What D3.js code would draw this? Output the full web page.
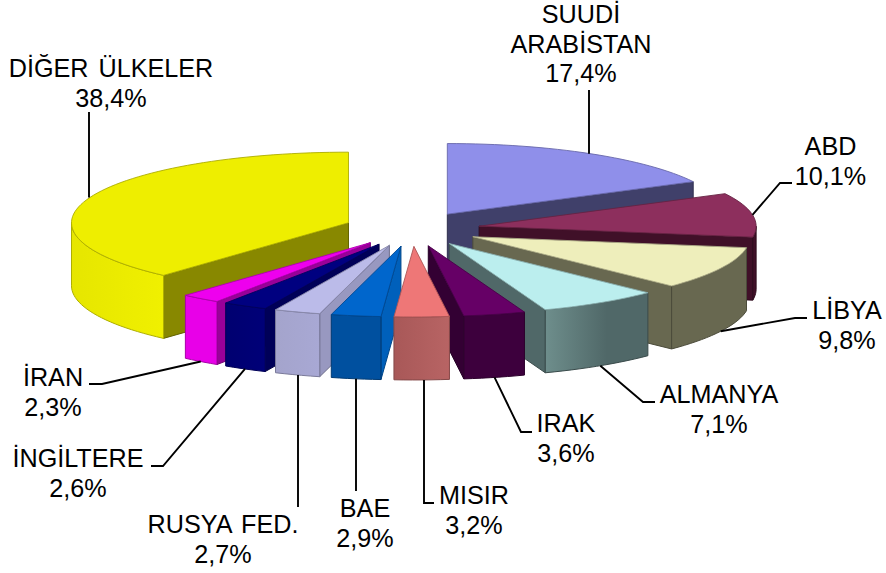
<!DOCTYPE html>
<html><head><meta charset="utf-8">
<style>html,body{margin:0;padding:0;background:#fff}svg{display:block}text{font-family:"Liberation Sans",Arial,sans-serif;font-size:25.2px;word-spacing:3px;fill:#000}</style>
<script src="https://cdn.jsdelivr.net/npm/d3@7/dist/d3.min.js"></script>
</head><body><svg id="c" width="886" height="573"></svg>
<script>
const categories=["SUUDİ ARABİSTAN","ABD","LİBYA","ALMANYA","IRAK","MISIR","BAE","RUSYA FED.","İNGİLTERE","İRAN","DİĞER ÜLKELER"];
const labelLines=[["SUUDİ","ARABİSTAN"],["ABD"],["LİBYA"],["ALMANYA"],["IRAK"],["MISIR"],["BAE"],["RUSYA FED."],["İNGİLTERE"],["İRAN"],["DİĞER ÜLKELER"]];
const values=[17.4,10.1,9.8,7.1,3.6,3.2,2.9,2.7,2.6,2.3,38.4];
const topColors=["#8f8fea","#8d2f5d","#eeeebb","#bbeeee","#660066","#ee7777","#0066cc","#bbbbe9","#000080","#ee00ee","#eeee00"];
const sideColors=["#40406a","#401028","#686850","#506868","#330033","#aa5a5a","#0060bb","#9898c0","#000058","#990099","#888800"];
const wallA=["#40406a","#401028","#686850","#6e8e8c","#3d003d","#a85858","#00509f","#a4a4cc","#000070","#e800e8","#e6e600"];
const wallB=["#40406a","#401028","#686850","#506868","#3d003d","#b86464","#00509f","#a8a8d4","#000078","#e800e8","#f0f000"];
// label layout: text centre, first baseline, leader end, leader elbow
const labelX=[581,830.5,847,719,566,474,365,223,78,53,111];
const labelY=[23,155,319,403,432,504,517,533,467,386,77];
const leaderEnd=[[589,90],[792,183],[807,318],[655,402],[532,432],[434,503],[356,491],[298,507],[151,466],[89,384],[89,112]];
const leaderElbow=[null,[780,183],[795,318],[643,402],[521,432],[424,503],null,null,[163,466],[102,384],null];
const verticalLeader=[true,false,false,false,false,true,true,true,false,false,true];

const cx=412,cy=229,R=277,tilt=0.255,explode=68,depth=63;
const W=d3.select("#c");
const pie=d3.pie().sort(null).value(d=>d);
const arcs=pie(values).map((d,i)=>({i,a:d.startAngle,b:d.endAngle,mid:(d.startAngle+d.endAngle)/2}));
const sx=d3.scaleLinear().domain([-1,1]).range([cx-R,cx+R]);
const sy=d3.scaleLinear().domain([-1,1]).range([cy+R*tilt,cy-R*tilt]);
const proj=(m,r,t,dz=0)=>{const ex=explode/R;
  return [sx(ex*Math.sin(m)+r*Math.sin(t)),sy(ex*Math.cos(m)+r*Math.cos(t))+dz];};
const line=d3.line();
const samples=(a,b)=>{const n=Math.max(2,Math.ceil((b-a)/(Math.PI/90)));return d3.range(n+1).map(k=>a+(b-a)*k/n);};
const defs=W.append("defs");
arcs.forEach(s=>{
  const g=defs.append("linearGradient").attr("id","w"+s.i).attr("gradientUnits","userSpaceOnUse");
  const pa=proj(s.mid,1,Math.max(s.a,Math.PI/2)),pb=proj(s.mid,1,Math.min(s.b,1.5*Math.PI));
  const x0=Math.min(pa[0],pb[0]),x1=Math.max(pa[0],pb[0]);
  g.attr("x1",x0).attr("x2",x1).attr("y1",0).attr("y2",0);
  g.append("stop").attr("offset",0).attr("stop-color",wallA[s.i]);
  g.append("stop").attr("offset",s.i===3?0.6:1).attr("stop-color",wallB[s.i]);
});
const order=arcs.slice().sort((p,q)=>Math.cos(q.mid)-Math.cos(p.mid));
const edge=c=>d3.color(c).darker(0.9).formatHex();
order.forEach(s=>{
  const g=W.append("g");
  const side=t=>{const pts=[proj(s.mid,0,t),proj(s.mid,1,t),proj(s.mid,1,t,depth),proj(s.mid,0,t,depth)];
    g.append("path").attr("d",line(pts)+"Z").attr("fill",sideColors[s.i]).attr("stroke",edge(sideColors[s.i])).attr("stroke-width",1);};
  if(Math.sin(s.a)<-1e-6) side(s.a);
  if(Math.sin(s.b)>1e-6) side(s.b);
  const a=Math.max(s.a,Math.PI/2),b=Math.min(s.b,1.5*Math.PI);
  if(b>a){const ts=samples(a,b);
    const pts=ts.map(t=>proj(s.mid,1,t)).concat(ts.slice().reverse().map(t=>proj(s.mid,1,t,depth)));
    g.append("path").attr("d",line(pts)+"Z").attr("fill",`url(#w${s.i})`).attr("stroke",edge(wallB[s.i])).attr("stroke-width",1);}
  const top=[proj(s.mid,0,s.a)].concat(samples(s.a,s.b).map(t=>proj(s.mid,1,t)));
  g.append("path").attr("d",line(top)+"Z").attr("fill",topColors[s.i]).attr("stroke",edge(topColors[s.i])).attr("stroke-width",0.9);
});
// leaders + labels
arcs.forEach(s=>{
  const front=Math.cos(s.mid)<0;
  const st=proj(s.mid,1,s.mid,front?depth:0);
  const el=leaderElbow[s.i],en=leaderEnd[s.i];
  if(verticalLeader[s.i]) st[0]=(el||en)[0];
  const pts=[st]; if(el)pts.push(el); pts.push(en);
  W.append("path").attr("d",line(pts)).attr("fill","none").attr("stroke","#000").attr("stroke-width",1.9);
  const ls=labelLines[s.i].concat([String(values[s.i]).replace(".",",")+"%"]);
  ls.forEach((t,k)=>W.append("text").attr("x",labelX[s.i]).attr("y",labelY[s.i]+k*29.5).attr("text-anchor","middle").text(t));
});
</script></body></html>
